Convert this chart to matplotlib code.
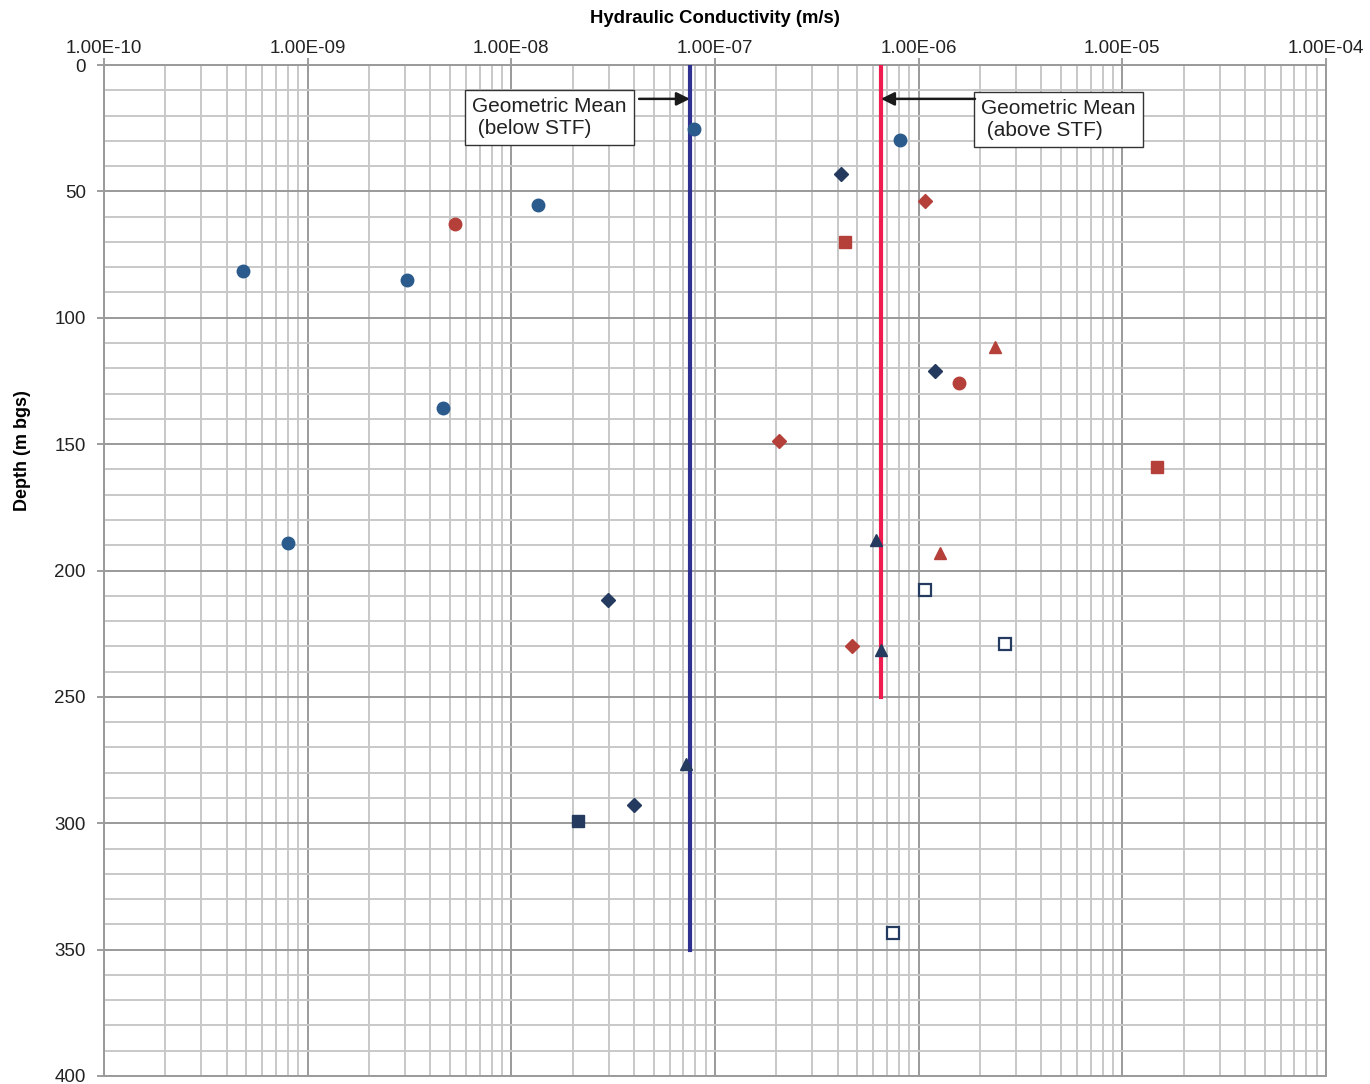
import matplotlib.pyplot as plt
from matplotlib.ticker import LogLocator, FixedLocator, MultipleLocator, NullFormatter

plt.rcParams['font.family'] = ['Liberation Sans', 'DejaVu Sans']

# hydraulic conductivity (m/s) and depth (m bgs) per marker group
blue_circle_k = [7.9e-8, 8.1e-7, 1.35e-8, 4.8e-10, 3.08e-9, 4.6e-9, 8.0e-10]
blue_circle_d = [25.3, 29.6, 55.3, 81.4, 85.0, 135.6, 189.3]

red_circle_k = [5.3e-9, 1.58e-6]
red_circle_d = [62.8, 125.7]

navy_diamond_k = [4.16e-7, 1.20e-6, 2.99e-8, 4.0e-8]
navy_diamond_d = [43.1, 121.0, 211.5, 292.9]

red_diamond_k = [1.07e-6, 2.06e-7, 4.71e-7]
red_diamond_d = [53.8, 148.6, 230.0]

red_square_k = [4.35e-7, 1.48e-5]
red_square_d = [70.0, 158.9]

navy_square_k = [2.12e-8]
navy_square_d = [299.2]

red_triangle_k = [2.37e-6, 1.27e-6]
red_triangle_d = [111.5, 193.0]

navy_triangle_k = [6.17e-7, 6.53e-7, 7.2e-8]
navy_triangle_d = [188.0, 231.5, 276.7]

open_square_k = [1.07e-6, 2.65e-6, 7.48e-7]
open_square_d = [207.9, 228.9, 343.5]

# geometric means and the depth range each applies to
gm_below_k = 7.53e-8
gm_below_depth = [0, 350]
gm_above_k = 6.53e-7
gm_above_depth = [0, 250]

x_ticks = [1e-10, 1e-9, 1e-8, 1e-7, 1e-6, 1e-5, 1e-4]
x_labels = ['1.00E-10', '1.00E-09', '1.00E-08', '1.00E-07', '1.00E-06', '1.00E-05', '1.00E-04']

BLUE = '#2b5b8c'
NAVY = '#243a5e'
RED = '#b5403a'

fig = plt.figure(figsize=(13.7, 10.84), dpi=100)
ax = fig.add_axes([104/1370, 1 - 1076/1084, (1326 - 104)/1370, (1076 - 65)/1084])

ax.set_xscale('log')
ax.set_xlim(1e-10, 1e-4)
ax.set_ylim(400, 0)

ax.xaxis.set_major_locator(FixedLocator(x_ticks))
ax.set_xticklabels(x_labels)
ax.xaxis.set_minor_locator(LogLocator(base=10, subs=range(2, 10), numticks=20))
ax.xaxis.set_minor_formatter(NullFormatter())
ax.yaxis.set_major_locator(MultipleLocator(50))
ax.yaxis.set_minor_locator(MultipleLocator(10))

ax.xaxis.tick_top()
ax.xaxis.set_label_position('top')
ax.tick_params(axis='both', which='major', labelsize=13.5, colors='#8c8c8c',
               labelcolor='#222222', length=5, width=1.2)
ax.tick_params(axis='both', which='minor', length=0)
ax.tick_params(axis='x', which='major', pad=1)
ax.tick_params(axis='y', which='major', pad=8)

ax.grid(True, which='major', color='#9a9a9a', linewidth=1.4)
ax.grid(True, which='minor', color='#c8c8c8', linewidth=1.4)
ax.set_axisbelow(True)
for s in ax.spines.values():
    s.set_color('#9a9a9a')
    s.set_linewidth(1.4)

ax.set_xlabel('Hydraulic Conductivity (m/s)', fontsize=13.3, fontweight='bold', labelpad=12)
ax.set_ylabel('Depth (m bgs)', fontsize=13, fontweight='bold')
ax.yaxis.set_label_coords(-0.060, 0.619)

ax.plot([gm_below_k, gm_below_k], gm_below_depth, color='#2e3192', lw=3, zorder=3)
ax.plot([gm_above_k, gm_above_k], gm_above_depth, color='#ee1c4f', lw=3, zorder=3)

ms = 9
ax.plot(blue_circle_k, blue_circle_d, 'o', color=BLUE, ms=ms, ls='none', zorder=4)
ax.plot(red_circle_k, red_circle_d, 'o', color=RED, ms=ms, ls='none', zorder=4)
ax.plot(navy_diamond_k, navy_diamond_d, 'D', color=NAVY, ms=7.5, ls='none', zorder=4)
ax.plot(red_diamond_k, red_diamond_d, 'D', color=RED, ms=7.5, ls='none', zorder=4)
ax.plot(red_square_k, red_square_d, 's', color=RED, ms=8.5, ls='none', zorder=4)
ax.plot(navy_square_k, navy_square_d, 's', color=NAVY, ms=9, ls='none', zorder=4)
ax.plot(red_triangle_k, red_triangle_d, '^', color=RED, ms=9, ls='none', zorder=4)
ax.plot(navy_triangle_k, navy_triangle_d, '^', color=NAVY, ms=9, ls='none', zorder=4)
ax.plot(open_square_k, open_square_d, 's', mfc='white', mec=NAVY, mew=1.6, ms=8.5,
        ls='none', zorder=4)

# labelled boxes with horizontal arrows pointing at the mean lines
box = dict(boxstyle='square,pad=0.35', fc='white', ec='#333333', lw=1)
arrow = dict(arrowstyle='-|>', color='#1a1a1a', lw=1.8, mutation_scale=20,
             shrinkA=0, shrinkB=0)
ax.text(6.4e-9, 12.8, 'Geometric Mean\n (below STF)', fontsize=15, ha='left', va='top',
        bbox=box, color='#222222', zorder=5, linespacing=1.15)
ax.annotate('', xy=(gm_below_k, 13.4), xytext=(4.24e-8, 13.4), arrowprops=arrow, zorder=5)
ax.text(2.02e-6, 13.6, 'Geometric Mean\n (above STF)', fontsize=15, ha='left', va='top',
        bbox=box, color='#222222', zorder=5, linespacing=1.15)
ax.annotate('', xy=(gm_above_k, 13.4), xytext=(1.89e-6, 13.4), arrowprops=arrow, zorder=5)

fig.savefig('out.png', dpi=100)
